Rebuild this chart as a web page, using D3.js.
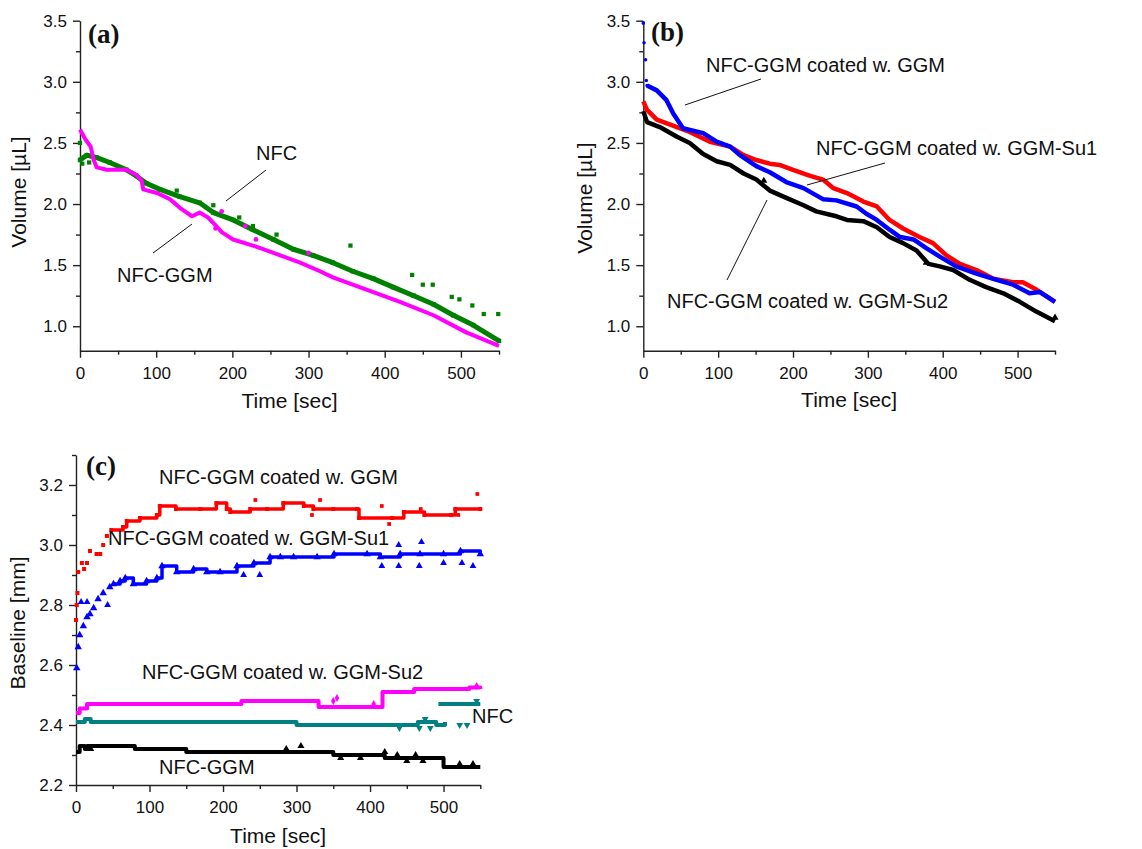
<!DOCTYPE html>
<html>
<head>
<meta charset="utf-8">
<script src="https://cdn.jsdelivr.net/npm/d3@7"></script>
<style>
  body { margin: 0; background: #fff; }
  text { font-family: "Liberation Sans", Arial, sans-serif; fill: #111; }
  .tick text { font-size: 17px; }
  .axis path, .axis line { stroke: #222; }
  .axisname { font-size: 21px; }
  .note { font-size: 20px; }
  .plabel { font-family: "Liberation Serif", "Times New Roman", serif; font-weight: bold; font-size: 27px; }
</style>
</head>
<body>
<svg id="chart"></svg>
<script>
const WIDTH = 1142;
const HEIGHT = 849;

// ticks
const timeTicks = [0, 100, 200, 300, 400, 500];
const timeMinor = [50, 150, 250, 350, 450, 550];
const volTicks = [1.0, 1.5, 2.0, 2.5, 3.0, 3.5];
const volMinor = [1.25, 1.75, 2.25, 2.75, 3.25];
const baseTicks = [2.2, 2.4, 2.6, 2.8, 3.0, 3.2];
const baseMinor = [2.3, 2.5, 2.7, 2.9, 3.1, 3.3];

// (a) volume, [time, value]
const nfcA = [[0,2.36],[9,2.40],[22,2.38],[39,2.34],[61,2.28],[74,2.23],[87,2.17],[105,2.12],[131,2.06],[157,2.01],[175,1.93],[201,1.87],[227,1.79],[254,1.71],[280,1.63],[306,1.58],[332,1.52],[358,1.45],[385,1.39],[411,1.32],[438,1.25],[464,1.18],[490,1.09],[516,1.01],[550,0.88]];
const nfcAOut = [[0,2.50],[3,2.33],[12,2.34],[16,2.39],[127,2.11],[175,1.99],[209,1.89],[227,1.82],[258,1.75],[355,1.66],[436,1.42],[450,1.34],[463,1.34],[488,1.24],[498,1.22],[515,1.17],[530,1.10],[549,1.10]];
const ggmA = [[0,2.61],[7,2.53],[14,2.47],[18,2.36],[22,2.30],[35,2.28],[61,2.28],[74,2.24],[81,2.19],[83,2.12],[101,2.09],[118,2.04],[133,1.96],[147,1.90],[157,1.93],[168,1.89],[179,1.82],[186,1.77],[201,1.71],[227,1.66],[254,1.60],[289,1.52],[315,1.45],[332,1.40],[376,1.30],[420,1.20],[464,1.09],[507,0.95],[550,0.84]];
const ggmAOut = [[178,1.80],[186,1.94],[217,1.82],[231,1.71],[300,1.60]];

// (b) volume
const ggmCoatB = [[0,3.48],[1,3.32],[3,3.18],[4,3.01],[5,2.97],[18,2.93],[31,2.85],[40,2.74],[53,2.62],[80,2.58],[98,2.51],[116,2.47],[129,2.40],[151,2.31],[169,2.26],[191,2.18],[214,2.13],[240,2.04],[258,2.03],[285,1.98],[298,1.92],[312,1.87],[329,1.79],[343,1.73],[361,1.71],[378,1.64],[396,1.57],[418,1.49],[445,1.43],[472,1.38],[494,1.34],[516,1.27],[530,1.28],[550,1.20]];
const su1B = [[0,2.84],[5,2.77],[18,2.69],[36,2.65],[62,2.59],[89,2.51],[116,2.47],[134,2.40],[151,2.36],[169,2.33],[182,2.32],[200,2.28],[223,2.23],[240,2.20],[254,2.13],[272,2.09],[294,2.02],[312,1.98],[329,1.87],[347,1.80],[369,1.73],[387,1.68],[405,1.58],[423,1.51],[445,1.46],[467,1.39],[494,1.36],[507,1.36],[525,1.30],[550,1.20]];
const su2B = [[0,2.76],[5,2.67],[22,2.63],[45,2.55],[62,2.50],[80,2.41],[98,2.35],[116,2.32],[134,2.25],[151,2.20],[169,2.11],[191,2.05],[214,1.99],[231,1.94],[258,1.90],[272,1.87],[294,1.86],[312,1.81],[329,1.73],[347,1.68],[365,1.62],[381,1.51],[396,1.49],[414,1.46],[436,1.38],[458,1.32],[481,1.27],[503,1.20],[525,1.12],[550,1.04]];
const su2BOut = [[161,2.19],[378,1.52],[550,1.07]];

// (c) baseline
const ggmCoatC = [[0,2.75],[1,2.80],[2,2.84],[3,2.91],[8,2.94],[11,2.92],[15,2.94],[19,2.98],[28,2.97],[33,2.97],[37,3.00],[42,3.03],[48,3.05],[64,3.06],[69,3.08],[87,3.09],[110,3.10],[114,3.13],[136,3.12],[169,3.12],[191,3.14],[205,3.12],[210,3.11],[237,3.12],[260,3.12],[282,3.14],[310,3.13],[323,3.12],[350,3.12],[382,3.12],[385,3.09],[430,3.09],[446,3.11],[474,3.10],[510,3.10],[516,3.12],[550,3.12]];
const ggmCoatCOut = [[244,3.15],[332,3.15],[321,3.10],[416,3.13],[426,3.07],[469,3.12],[520,3.10],[546,3.17]];
const su1C = [[1,2.59],[3,2.66],[5,2.70],[10,2.73],[15,2.76],[19,2.77],[24,2.79],[30,2.82],[37,2.84],[46,2.86],[51,2.87],[60,2.88],[67,2.89],[78,2.87],[96,2.88],[110,2.89],[117,2.93],[137,2.91],[160,2.92],[178,2.91],[196,2.91],[219,2.93],[242,2.94],[264,2.96],[278,2.96],[296,2.96],[328,2.96],[351,2.97],[396,2.97],[414,2.96],[441,2.97],[468,2.97],[500,2.97],[523,2.98],[550,2.97]];
const su1COut = [[7,2.81],[15,2.81],[43,2.80],[250,2.90],[228,2.90],[416,2.93],[439,2.93],[467,2.93],[500,2.94],[525,2.94],[540,2.93],[439,3.00],[470,3.01]];
const su2C = [[0,2.44],[5,2.455],[15,2.47],[225,2.48],[330,2.46],[417,2.51],[460,2.52],[535,2.525],[550,2.52]];
const su2COut = [[355,2.49],[350,2.48],[405,2.47],[545,2.53]];
const nfcC = [[0,2.41],[12,2.42],[20,2.41],[300,2.40],[465,2.41],[490,2.40],[502,2.41]];
const nfcC2 = [[493,2.47],[550,2.47]];
const nfcCOut = [[467,2.39],[475,2.42],[482,2.39],[440,2.39],[522,2.40],[532,2.40],[545,2.48]];
const ggmC = [[0,2.31],[5,2.33],[12,2.32],[15,2.33],[80,2.32],[150,2.31],[350,2.30],[420,2.29],[500,2.26],[550,2.26]];
const ggmCOut = [[20,2.32],[286,2.32],[306,2.33],[360,2.29],[387,2.29],[420,2.31],[437,2.30],[450,2.28],[462,2.30],[472,2.28],[522,2.27],[540,2.27]];

const svg = d3.select('#chart').attr('width', WIDTH).attr('height', HEIGHT);

function panel(o) {
    const g = svg.append('g');
    const x = d3.scaleLinear().domain([0, 550]).range([o.x0, o.x1]);
    const y = d3.scaleLinear().domain(o.yDom).range([o.yB, o.yT]);

    g.append('g').attr('class', 'axis')
        .attr('transform', `translate(0,${o.yB})`)
        .call(d3.axisBottom(x).tickValues(timeMinor).tickSize(4).tickFormat(''))
        .call(a => a.select('.domain').remove());
    g.append('g').attr('class', 'axis')
        .attr('transform', `translate(${o.x0},0)`)
        .call(d3.axisLeft(y).tickValues(o.minor).tickSize(4).tickFormat(''))
        .call(a => a.select('.domain').remove());
    g.append('g').attr('class', 'axis')
        .attr('transform', `translate(0,${o.yB})`)
        .call(d3.axisBottom(x).tickValues(timeTicks).tickSize(7).tickPadding(9).tickSizeOuter(0));
    g.append('g').attr('class', 'axis')
        .attr('transform', `translate(${o.x0},0)`)
        .call(d3.axisLeft(y).tickValues(o.major).tickSize(7).tickPadding(6).tickSizeOuter(0).tickFormat(d3.format('.1f')));
    g.selectAll('.axis path, .axis line').attr('stroke-width', 1.4);

    g.append('text').attr('class', 'axisname')
        .attr('x', (o.x0 + o.x1) / 2).attr('y', o.xTitleY)
        .style('text-anchor', 'middle').text('Time [sec]');
    g.append('text').attr('class', 'axisname')
        .attr('transform', `translate(${o.yTitleX},${o.yTitleY}) rotate(-90)`)
        .style('text-anchor', 'middle').text(o.yName);
    g.append('text').attr('class', 'plabel')
        .attr('x', o.lab[0]).attr('y', o.lab[1]).text(o.label);
    return {g, x, y};
}

function line(p, data, color, w, curve) {
    p.g.append('path').datum(data)
        .attr('fill', 'none').attr('stroke', color)
        .attr('stroke-width', w).attr('stroke-linejoin', 'round')
        .attr('d', d3.line().x(d => p.x(d[0])).y(d => p.y(d[1])).curve(curve || d3.curveLinear));
}

function marks(p, data, color, type, size, rot) {
    p.g.selectAll(null).data(data).enter()
        .append('path')
        .attr('transform', d => `translate(${p.x(d[0])},${p.y(d[1])}) rotate(${rot || 0})`)
        .attr('fill', color)
        .attr('d', d3.symbol().type(type).size(size));
}

function note(p, txt, tx, ty, l) {
    p.g.append('text').attr('class', 'note').attr('x', tx).attr('y', ty).text(txt);
    if (l) p.g.append('line').attr('x1', l[0]).attr('y1', l[1]).attr('x2', l[2]).attr('y2', l[3])
        .attr('stroke', '#111').attr('stroke-width', 1);
}

// (a)
const pa = panel({x0: 80, x1: 499, yT: 20.7, yB: 350.7, yDom: [0.8, 3.5], major: volTicks, minor: volMinor,
    xTitleY: 408, yTitleX: 26, yTitleY: 192, yName: 'Volume [\u00b5L]', label: '(a)', lab: [88, 43]});
line(pa, nfcA, '#008000', 5);
marks(pa, nfcA, '#008000', d3.symbolSquare, 20);
marks(pa, nfcAOut, '#008000', d3.symbolSquare, 18);
line(pa, ggmA, '#ff00ff', 4);
marks(pa, ggmAOut, '#ff00ff', d3.symbolCircle, 18);
note(pa, 'NFC', 256, 160, [266, 170, 226, 201]);
note(pa, 'NFC-GGM', 117, 282, [153, 253, 192, 224]);

// (b)
const pb = panel({x0: 643.3, x1: 1055, yT: 20.7, yB: 350.7, yDom: [0.8, 3.5], major: volTicks, minor: volMinor,
    xTitleY: 407, yTitleX: 592, yTitleY: 198, yName: 'Volume [\u00b5L]', label: '(b)', lab: [651, 41]});
line(pb, su2B, '#000000', 4.5);
marks(pb, su2BOut, '#000000', d3.symbolTriangle, 22);
line(pb, su1B, '#ff0000', 4.5);
line(pb, ggmCoatB.slice(4), '#0000ff', 4.5);
marks(pb, ggmCoatB.slice(0, 5), '#0000ff', d3.symbolCircle, 10);
note(pb, 'NFC-GGM coated w. GGM', 706, 72, [761, 79, 685, 105]);
note(pb, 'NFC-GGM coated w. GGM-Su1', 816, 155, [885, 163, 807, 185]);
note(pb, 'NFC-GGM coated w. GGM-Su2', 667, 308, [767, 200, 727, 280]);

// (c)
const pc = panel({x0: 76, x1: 480.3, yT: 455, yB: 785, yDom: [2.2, 3.3], major: baseTicks, minor: baseMinor,
    xTitleY: 843, yTitleX: 25, yTitleY: 623, yName: 'Baseline [mm]', label: '(c)', lab: [86, 475]});
line(pc, ggmCoatC.slice(12), '#ff0000', 3.5, d3.curveStepAfter);
marks(pc, ggmCoatC, '#ff0000', d3.symbolSquare, 16);
marks(pc, ggmCoatCOut, '#ff0000', d3.symbolSquare, 14);
line(pc, su1C.slice(10), '#0000ff', 3.5, d3.curveStepAfter);
marks(pc, su1C, '#0000ff', d3.symbolTriangle, 24);
marks(pc, su1COut, '#0000ff', d3.symbolTriangle, 20);
line(pc, su2C, '#ff00ff', 4, d3.curveStepAfter);
marks(pc, su2COut, '#ff00ff', d3.symbolDiamond, 18);
line(pc, nfcC, '#008080', 4, d3.curveStepAfter);
line(pc, nfcC2, '#008080', 4);
marks(pc, nfcCOut, '#008080', d3.symbolTriangle, 20, 180);
line(pc, ggmC, '#000000', 4, d3.curveStepAfter);
marks(pc, ggmCOut, '#000000', d3.symbolTriangle, 22);
note(pc, 'NFC-GGM coated w. GGM', 159, 484);
note(pc, 'NFC-GGM coated w. GGM-Su1', 108, 545);
note(pc, 'NFC-GGM coated w. GGM-Su2', 142, 679);
note(pc, 'NFC', 472, 723);
note(pc, 'NFC-GGM', 159, 774);
</script>
</body>
</html>
